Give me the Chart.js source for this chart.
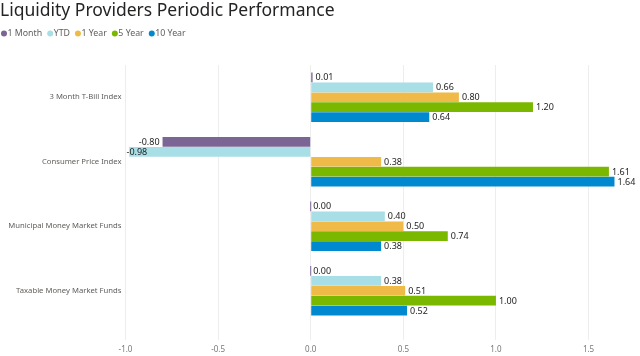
<!DOCTYPE html>
<html>
<head>
<meta charset="utf-8">
<script src="https://cdn.jsdelivr.net/npm/chart.js@4/dist/chart.umd.min.js"></script>
<style>
html,body{margin:0;padding:0;background:#fff;}
#wrap{width:640px;height:356px;position:relative;}
</style>
</head>
<body>
<div id="wrap"><canvas id="c" width="640" height="356"></canvas></div>
<script>
const categories = ["3 Month T-Bill Index", "Consumer Price Index", "Municipal Money Market Funds", "Taxable Money Market Funds"];
const seriesNames = ["1 Month", "YTD", "1 Year", "5 Year", "10 Year"];
const oneMonth = [0.01, -0.80, 0.00, 0.00];
const ytd = [0.66, -0.98, 0.40, 0.38];
const oneYear = [0.80, 0.38, 0.50, 0.51];
const fiveYear = [1.20, 1.61, 0.74, 1.00];
const tenYear = [0.64, 1.64, 0.38, 0.52];
const xTicks = [-1.0, -0.5, 0.0, 0.5, 1.0, 1.5];

const colors = ["#7A6595", "#A8DEE6", "#EFBA47", "#7AB800", "#0089CF"];
const seriesValues = [oneMonth, ytd, oneYear, fiveYear, tenYear];
const FONT = "'Noto Sans', 'Open Sans', sans-serif";

const customLegend = {
  id: 'customLegend',
  afterDraw(chart) {
    const ctx = chart.ctx;
    ctx.save();
    ctx.font = "8.8px " + FONT;
    ctx.textBaseline = 'middle';
    let x = 4;
    const y = 33.5;
    chart.data.datasets.forEach(ds => {
      ctx.fillStyle = ds.backgroundColor;
      ctx.beginPath();
      ctx.arc(x, y, 3, 0, Math.PI * 2);
      ctx.fill();
      ctx.fillStyle = '#605E5C';
      ctx.textAlign = 'left';
      const tx = x + 3.5;
      ctx.fillText(ds.label, tx, y);
      x = tx + ctx.measureText(ds.label).width + 8;
    });
    ctx.restore();
  }
};

const valueLabels = {
  id: 'valueLabels',
  afterDatasetsDraw(chart) {
    const ctx = chart.ctx;
    const area = chart.chartArea;
    ctx.save();
    ctx.font = "9px " + FONT;
    ctx.textBaseline = 'middle';
    ctx.fillStyle = '#252423';
    ctx.textAlign = 'left';
    chart.data.datasets.forEach((ds, di) => {
      const meta = chart.getDatasetMeta(di);
      meta.data.forEach((bar, i) => {
        const v = ds.data[i];
        const txt = v.toFixed(2);
        const w = ctx.measureText(txt).width;
        let tx;
        if (v >= 0) {
          tx = bar.x + 3;
        } else {
          tx = bar.x - 3 - w;
          if (tx < area.left + 1) tx = area.left + 1;
        }
        ctx.fillText(txt, tx, bar.y + 0.5);
      });
    });
    ctx.restore();
  }
};

const datasets = seriesNames.map((name, i) => ({
  label: name,
  data: seriesValues[i],
  backgroundColor: colors[i],
  borderWidth: 0,
  minBarLength: i === 0 ? 1 : 0,
  barPercentage: 0.97,
  categoryPercentage: 0.77
}));

new Chart(document.getElementById('c'), {
  type: 'bar',
  data: { labels: categories, datasets: datasets },
  plugins: [customLegend, valueLabels],
  options: {
    indexAxis: 'y',
    responsive: false,
    animation: false,
    layout: { padding: { left: 0, right: 7, top: 0, bottom: 0 } },
    plugins: {
      legend: { display: false },
      tooltip: { enabled: false },
      title: {
        display: true,
        text: 'Liquidity Providers Periodic Performance',
        align: 'start',
        color: '#252423',
        font: { family: FONT, size: 17.5, weight: 'normal' },
        padding: { top: 1, bottom: 43 }
      }
    },
    scales: {
      x: {
        type: 'linear',
        min: -1.0,
        max: 1.74,
        afterBuildTicks(scale) { scale.ticks = xTicks.map(v => ({ value: v })); },
        afterFit(scale) { scale.height = 33; },
        grid: { color: '#EDEDED', lineWidth: 1, drawTicks: true, tickLength: 17, tickColor: '#EDEDED' },
        border: { display: false },
        ticks: {
          color: '#777777',
          font: { family: FONT, size: 8 },
          padding: 5,
          callback: v => Number(v).toFixed(1)
        }
      },
      y: {
        afterFit(scale) { scale.width = 125.5; },
        grid: { display: false, drawTicks: false },
        border: { display: false },
        ticks: {
          color: '#605E5C',
          font: { family: FONT, size: 7.7 },
          padding: 4
        }
      }
    }
  }
});
</script>
</body>
</html>
